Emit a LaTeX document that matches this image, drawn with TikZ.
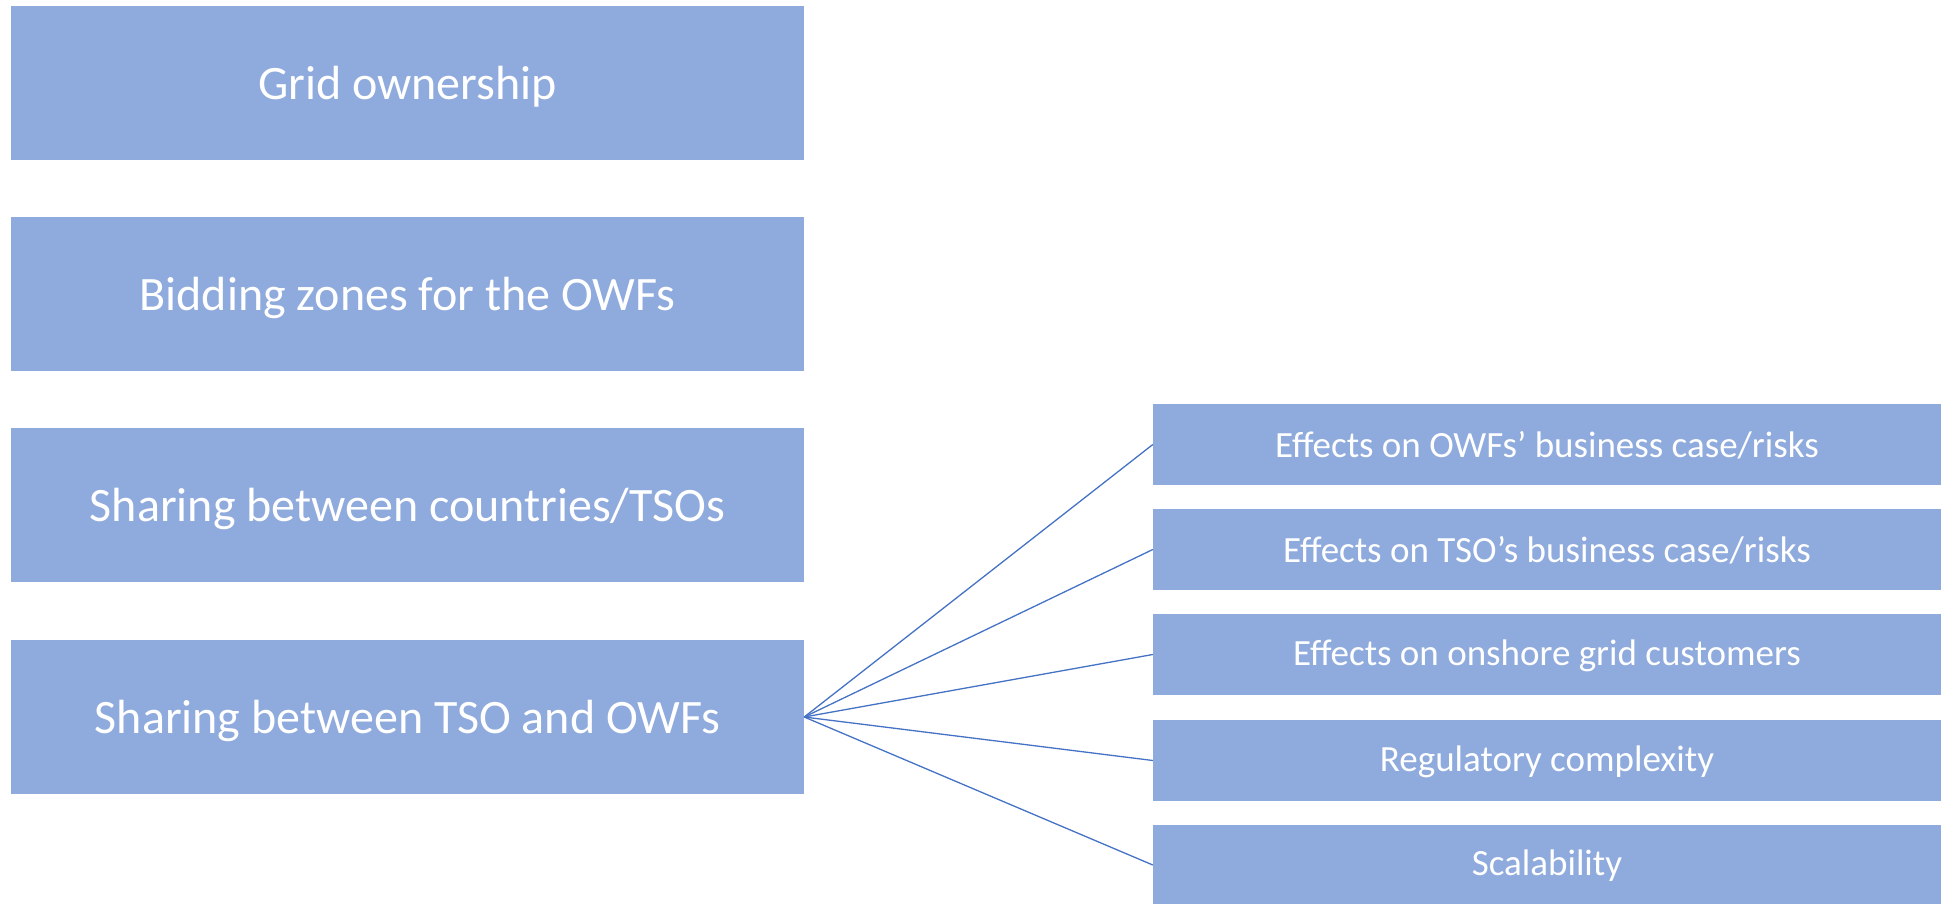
\documentclass[tikz,border=0pt]{standalone}
\usepackage{fontspec}
\setmainfont{Carlito}
\definecolor{boxfill}{HTML}{8FAADC}
\definecolor{linkblue}{HTML}{4472C4}
\newcommand\lowertext[2]{\raisebox{-#1pt}[\height][\depth]{#2}}
\begin{document}
\begin{tikzpicture}[x=1pt,y=-1pt,
  bigbox/.style={fill=boxfill, draw=none, text=white, inner sep=0pt,
    minimum width=793pt, minimum height=154pt,
    font=\fontsize{48}{58}\selectfont},
  smallbox/.style={fill=boxfill, draw=none, text=white, inner sep=0pt,
    minimum width=788pt, minimum height=81pt,
    font=\fontsize{37}{44}\selectfont},
  link/.style={draw=linkblue, line width=1.3pt}]
\useasboundingbox (0,0) rectangle (1941,904);
\node[bigbox] (b1) at (407.5,83) {\lowertext{4}{Grid ownership}};
\node[bigbox] (b2) at (407.5,294) {\lowertext{4}{Bidding zones for the OWFs}};
\node[bigbox] (b3) at (407.5,505) {\lowertext{4}{Sharing between countries/TSOs}};
\node[bigbox] (b4) at (407.5,717) {\lowertext{4}{Sharing between TSO and OWFs}};
\node[smallbox] (r1) at (1547,444.5) {\lowertext{1}{Effects on OWFs’ business case/risks}};
\node[smallbox] (r2) at (1547,549.5) {\lowertext{1}{Effects on TSO’s business case/risks}};
\node[smallbox] (r3) at (1547,654.5) {\lowertext{1}{Effects on onshore grid customers}};
\node[smallbox] (r4) at (1547,760.5) {\lowertext{1}{Regulatory complexity}};
\node[smallbox] (r5) at (1547,865) {\lowertext{1}{Scalability}};
\foreach \r in {r1,r2,r3,r4,r5} \draw[link] (b4.east) -- (\r.west);
\end{tikzpicture}
\end{document}
